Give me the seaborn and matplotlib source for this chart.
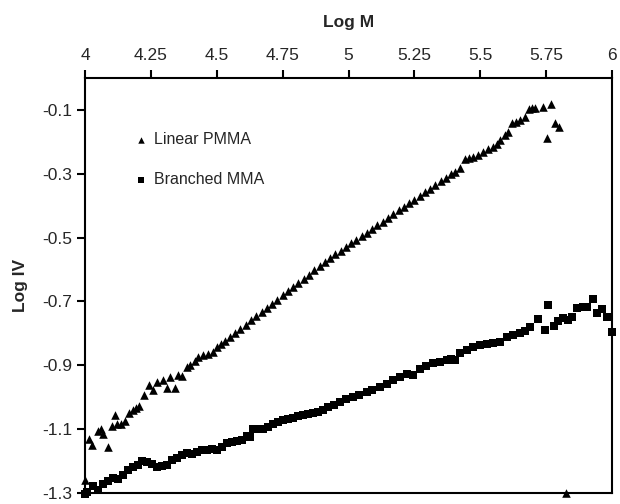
import matplotlib
matplotlib.use("Agg")
import matplotlib.pyplot as plt
import seaborn as sns

# Data (Log M vs Log IV)
linear_x = [4.000, 4.016, 4.028, 4.050, 4.060, 4.067, 4.088, 4.101, 4.114, 4.123,
            4.135, 4.152, 4.168, 4.181, 4.194, 4.206, 4.224, 4.244, 4.257, 4.275,
            4.295, 4.310, 4.323, 4.342, 4.354, 4.367, 4.386, 4.398, 4.417, 4.430,
            4.449, 4.468, 4.487, 4.500, 4.515, 4.530, 4.550, 4.570, 4.590, 4.610,
            4.630, 4.650, 4.670, 4.690, 4.710, 4.730, 4.750, 4.770, 4.790, 4.810,
            4.830, 4.850, 4.870, 4.890, 4.910, 4.930, 4.950, 4.970, 4.990, 5.010,
            5.030, 5.050, 5.070, 5.090, 5.110, 5.130, 5.150, 5.170, 5.190, 5.210,
            5.230, 5.250, 5.270, 5.290, 5.310, 5.330, 5.350, 5.370, 5.390, 5.405,
            5.423, 5.442, 5.458, 5.474, 5.490, 5.512, 5.530, 5.550, 5.563, 5.575,
            5.594, 5.607, 5.619, 5.635, 5.651, 5.670, 5.686, 5.697, 5.708, 5.739,
            5.752, 5.767, 5.784, 5.797, 5.824]
linear_y = [-1.260, -1.130, -1.150, -1.106, -1.099, -1.114, -1.156, -1.091, -1.056, -1.083,
            -1.083, -1.074, -1.049, -1.041, -1.035, -1.028, -0.994, -0.963, -0.978, -0.953,
            -0.947, -0.972, -0.937, -0.972, -0.931, -0.933, -0.905, -0.900, -0.885, -0.874,
            -0.868, -0.866, -0.857, -0.843, -0.834, -0.824, -0.811, -0.799, -0.785, -0.773,
            -0.759, -0.746, -0.733, -0.721, -0.707, -0.694, -0.681, -0.668, -0.655, -0.642,
            -0.629, -0.616, -0.603, -0.590, -0.577, -0.564, -0.552, -0.541, -0.529, -0.518,
            -0.507, -0.495, -0.484, -0.472, -0.461, -0.450, -0.438, -0.427, -0.415, -0.404,
            -0.393, -0.381, -0.370, -0.358, -0.347, -0.336, -0.324, -0.313, -0.301, -0.293,
            -0.283, -0.254, -0.251, -0.247, -0.240, -0.231, -0.223, -0.215, -0.206, -0.194,
            -0.179, -0.170, -0.142, -0.137, -0.132, -0.121, -0.098, -0.094, -0.095, -0.092,
            -0.187, -0.082, -0.140, -0.153, -1.300]

branched_x = [4.000, 4.009, 4.032, 4.050, 4.069, 4.088, 4.107, 4.126, 4.145, 4.164,
              4.183, 4.202, 4.215, 4.234, 4.253, 4.272, 4.291, 4.310, 4.329, 4.348,
              4.367, 4.386, 4.405, 4.424, 4.443, 4.462, 4.481, 4.500, 4.519, 4.538,
              4.557, 4.576, 4.595, 4.614, 4.626, 4.639, 4.658, 4.677, 4.696, 4.715,
              4.734, 4.753, 4.772, 4.791, 4.810, 4.829, 4.848, 4.866, 4.885, 4.904,
              4.923, 4.945, 4.968, 4.990, 5.018, 5.040, 5.069, 5.090, 5.120, 5.145,
              5.170, 5.195, 5.221, 5.246, 5.271, 5.296, 5.322, 5.347, 5.372, 5.390,
              5.404, 5.423, 5.448, 5.474, 5.500, 5.524, 5.550, 5.575, 5.600, 5.625,
              5.651, 5.670, 5.689, 5.720, 5.746, 5.758, 5.780, 5.796, 5.815, 5.834,
              5.850, 5.869, 5.889, 5.906, 5.927, 5.944, 5.963, 5.982, 6.000]
branched_y = [-1.302, -1.297, -1.279, -1.290, -1.271, -1.262, -1.252, -1.255, -1.245, -1.229,
              -1.220, -1.213, -1.200, -1.203, -1.208, -1.220, -1.216, -1.213, -1.197, -1.189,
              -1.182, -1.174, -1.179, -1.171, -1.166, -1.164, -1.161, -1.166, -1.155, -1.143,
              -1.140, -1.137, -1.133, -1.122, -1.126, -1.098, -1.098, -1.098, -1.093, -1.083,
              -1.077, -1.072, -1.067, -1.064, -1.060, -1.056, -1.051, -1.049, -1.046, -1.039,
              -1.032, -1.024, -1.014, -1.007, -0.999, -0.992, -0.983, -0.976, -0.967, -0.957,
              -0.947, -0.937, -0.926, -0.931, -0.910, -0.902, -0.894, -0.889, -0.884, -0.880,
              -0.882, -0.863, -0.852, -0.842, -0.837, -0.832, -0.829, -0.826, -0.811, -0.805,
              -0.800, -0.792, -0.779, -0.755, -0.790, -0.712, -0.777, -0.761, -0.753, -0.759,
              -0.748, -0.722, -0.717, -0.717, -0.691, -0.736, -0.725, -0.748, -0.797]

x_ticks = [4, 4.25, 4.5, 4.75, 5, 5.25, 5.5, 5.75, 6]
x_labels = ["4", "4.25", "4.5", "4.75", "5", "5.25", "5.5", "5.75", "6"]
y_ticks = [-0.1, -0.3, -0.5, -0.7, -0.9, -1.1, -1.3]
y_labels = ["-0.1", "-0.3", "-0.5", "-0.7", "-0.9", "-1.1", "-1.3"]

sns.set_style("white")
plt.rcParams['font.family'] = ['Liberation Sans', 'DejaVu Sans']

fig = plt.figure(figsize=(6.2, 5.04), dpi=100)
ax = fig.add_axes([85 / 620, 1 - 493 / 504, 527 / 620, 415 / 504])

sns.scatterplot(x=linear_x, y=linear_y, marker='^', s=38, color='black',
                edgecolor='black', linewidth=0, label='Linear PMMA', ax=ax, clip_on=False)
sns.scatterplot(x=branched_x, y=branched_y, marker='s', s=27, color='black',
                edgecolor='black', linewidth=0, label='Branched MMA', ax=ax, clip_on=False)

ax.set_xlim(4, 6)
ax.set_ylim(-1.3, 0)
ax.xaxis.tick_top()
ax.xaxis.set_label_position('top')
ax.set_xticks(x_ticks)
ax.set_xticklabels(x_labels)
ax.set_yticks(y_ticks)
ax.set_yticklabels(y_labels)
ax.tick_params(axis='x', direction='out', length=6, width=1.5, pad=5, labelsize=12.5,
               top=True, bottom=False, color='black')
ax.tick_params(axis='y', direction='out', length=6, width=1.5, pad=3, labelsize=12.5,
               left=True, color='black')
for sp in ax.spines.values():
    sp.set_color('black')
    sp.set_linewidth(1.5)

ax.set_xlabel('Log M', fontsize=12.5, fontweight='bold', labelpad=15)
ax.set_ylabel('Log IV', fontsize=12.5, fontweight='bold', labelpad=10)

ax.legend(loc='upper left', bbox_to_anchor=(0.07, 0.905), frameon=False, fontsize=11.5,
          handlelength=0.6, handletextpad=0.5, labelspacing=1.6, markerscale=0.75)

fig.savefig('out.png', dpi=100)
